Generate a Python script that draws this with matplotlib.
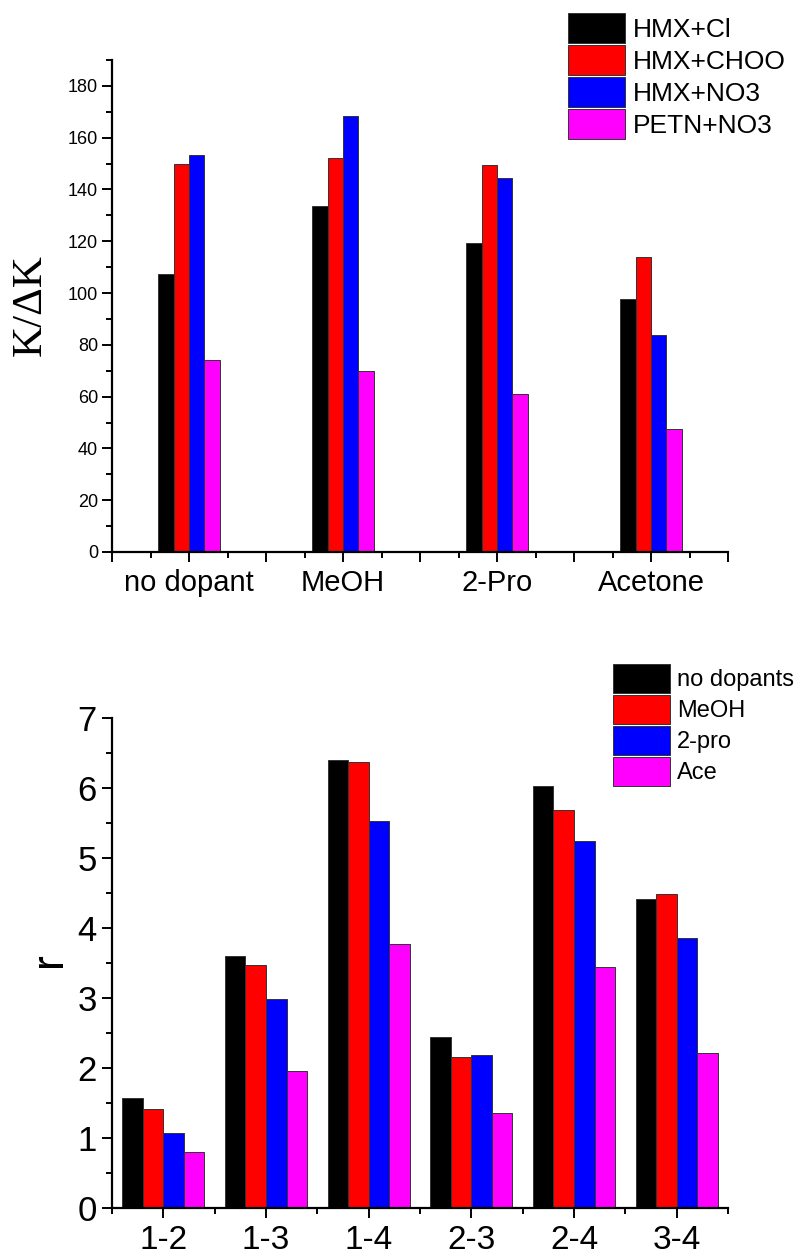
# Two grouped bar charts: K/dK per dopant and r per peak pair

import numpy as np
import matplotlib
matplotlib.use('Agg')
import matplotlib.pyplot as plt

plt.rcParams['font.family'] = ['Liberation Sans', 'DejaVu Sans']

# top chart data
dopants = ['no dopant', 'MeOH', '2-Pro', 'Acetone']
hmx_cl = [107.4, 133.7, 119.3, 97.7]
hmx_choo = [150.0, 152.3, 149.5, 113.9]
hmx_no3 = [153.4, 168.3, 144.5, 83.9]
petn_no3 = [74.3, 70.0, 61.2, 47.6]
top_names = ['HMX+Cl', 'HMX+CHOO', 'HMX+NO3', 'PETN+NO3']

# bottom chart data
pairs = ['1-2', '1-3', '1-4', '2-3', '2-4', '3-4']
r_none = [1.57, 3.60, 6.40, 2.44, 6.03, 4.41]
r_meoh = [1.41, 3.47, 6.37, 2.16, 5.68, 4.48]
r_2pro = [1.07, 2.99, 5.53, 2.19, 5.24, 3.86]
r_ace = [0.80, 1.96, 3.77, 1.36, 3.44, 2.22]
bottom_names = ['no dopants', 'MeOH', '2-pro', 'Ace']

colors = ['#000000', '#ff0000', '#0000ff', '#ff00ff']

W, H = 806, 1255
fig = plt.figure(figsize=(W / 100, H / 100), dpi=100)

ax1 = fig.add_axes([112 / W, 1 - 552 / H, 616 / W, 492 / H])
ax2 = fig.add_axes([112 / W, 1 - 1208 / H, 616 / W, 490 / H])


def style_axes(ax):
    for s in ['top', 'right']:
        ax.spines[s].set_visible(False)
    for s in ['left', 'bottom']:
        ax.spines[s].set_linewidth(1.6)
    ax.tick_params(which='both', direction='out', width=1.4, color='black')
    ax.tick_params(which='major', length=7)
    ax.tick_params(which='minor', length=4)


# --- top chart ---
x = np.arange(len(dopants))
bw = 0.1
for i, (vals, name) in enumerate(zip([hmx_cl, hmx_choo, hmx_no3, petn_no3], top_names)):
    ax1.bar(x + (i - 1.5) * bw, vals, bw, color=colors[i], edgecolor='#333333',
            linewidth=0.7, label=name)

ax1.set_xlim(-0.5, len(dopants) - 0.5)
ax1.set_ylim(0, 190)
style_axes(ax1)
major_x = np.arange(-0.5, len(dopants) - 0.4, 0.5)
ax1.set_xticks(major_x)
ax1.set_xticklabels([dopants[int(v)] if float(v).is_integer() else '' for v in major_x],
                    fontsize=21)
ax1.set_xticks(np.arange(-0.25, len(dopants) - 0.5, 0.5), minor=True)
ax1.set_yticks(np.arange(0, 181, 20))
ax1.set_yticks(np.arange(10, 191, 20), minor=True)
ax1.tick_params(axis='y', labelsize=13, pad=3)
ax1.tick_params(axis='x', pad=5)
ax1.text(-0.133, 0.502, 'K/ΔK', transform=ax1.transAxes, rotation=90,
         ha='center', va='center', fontsize=31, family=['Liberation Serif', 'DejaVu Serif'])

ax1.legend(loc='upper left', bbox_to_anchor=(568 / W, 1 - 13 / H),
           bbox_transform=fig.transFigure, frameon=False, fontsize=19,
           borderpad=0, handlelength=2.16, handleheight=1.37,
           labelspacing=0.076, handletextpad=0.3, borderaxespad=0)

# --- bottom chart ---
x2 = np.arange(len(pairs))
bw2 = 0.2
for i, (vals, name) in enumerate(zip([r_none, r_meoh, r_2pro, r_ace], bottom_names)):
    ax2.bar(x2 + (i - 1.5) * bw2, vals, bw2, color=colors[i], edgecolor='#333333',
            linewidth=0.7, label=name)

ax2.set_xlim(-0.5, len(pairs) - 0.5)
ax2.set_ylim(0, 7)
style_axes(ax2)
ax2.set_xticks(x2)
ax2.set_xticklabels(pairs, fontsize=24)
ax2.set_xticks(np.arange(-0.5, len(pairs), 1), minor=True)
ax2.set_yticks(np.arange(0, 8, 1))
ax2.set_yticks(np.arange(0.5, 7, 1), minor=True)
ax2.tick_params(axis='y', labelsize=25, pad=4)
ax2.tick_params(axis='x', pad=5)
ax2.text(-0.102, 0.506, 'r', transform=ax2.transAxes, rotation=90,
         ha='center', va='center', fontsize=32)

ax2.legend(loc='upper left', bbox_to_anchor=(613 / W, 1 - 664 / H),
           bbox_transform=fig.transFigure, frameon=False, fontsize=17,
           borderpad=0, handlelength=2.41, handleheight=1.51,
           labelspacing=0.085, handletextpad=0.3, borderaxespad=0)

fig.savefig('out.png', dpi=100)
